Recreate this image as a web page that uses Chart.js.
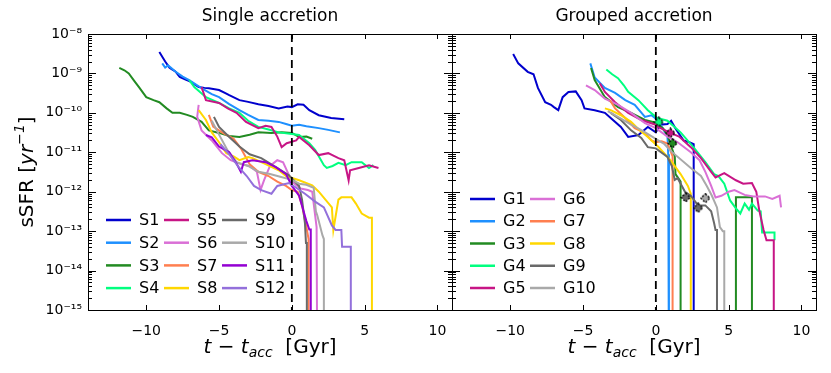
<!DOCTYPE html>
<html>
<head>
<meta charset="utf-8">
<script src="https://cdn.jsdelivr.net/npm/chart.js@4.4.1/dist/chart.umd.min.js"></script>
<style>
  html, body { margin: 0; padding: 0; background: #fff; }
  #wrap { position: relative; width: 831px; height: 373px; overflow: hidden; }
  canvas { position: absolute; top: 0; }
  #left { left: 0; }
  #right { left: 440px; }
</style>
</head>
<body>
<div id="wrap">
  <canvas id="left" width="453" height="373"></canvas>
  <canvas id="right" width="391" height="373"></canvas>
</div>
<script>
// --- data: [t - t_acc (Gyr), sSFR (1/yr)]; 1e-17 = quenched (off the axis)
const s1 = [[-9.1,3.5e-9],[-8.7,2.0e-9],[-8.4,1.4e-9],[-8.2,1.25e-9],[-8.0,1.12e-9],[-7.7,8.1e-10],[-7.3,7.0e-10],[-7.0,6.3e-10],[-6.4,4.5e-10],[-6.0,4.3e-10],[-5.7,4.2e-10],[-5.0,3.8e-10],[-4.6,3.2e-10],[-4.3,2.8e-10],[-3.6,2.1e-10],[-3.0,1.9e-10],[-2.3,1.66e-10],[-1.6,1.5e-10],[-0.9,1.3e-10],[-0.3,1.45e-10],[0.0,1.4e-10],[0.4,1.65e-10],[0.8,1.6e-10],[1.2,1.17e-10],[1.85,8.7e-11],[2.7,7.4e-11],[3.6,6.9e-11]];
const s2 = [[-8.9,1.8e-9],[-8.7,1.4e-9],[-8.5,1.6e-9],[-8.0,1.12e-9],[-7.5,8.3e-10],[-7.05,6.8e-10],[-6.5,5.0e-10],[-6.0,3.8e-10],[-5.5,3.0e-10],[-5.0,2.5e-10],[-4.3,1.66e-10],[-3.6,1.17e-10],[-3.0,8.9e-11],[-2.3,6.6e-11],[-1.6,6.3e-11],[-0.9,5.9e-11],[-0.4,5.2e-11],[0.0,4.7e-11],[0.5,5.0e-11],[1.0,4.6e-11],[1.85,4.1e-11],[2.5,3.7e-11],[3.3,3.2e-11]];
const s3 = [[-11.85,1.38e-9],[-11.5,1.2e-9],[-11.2,1.0e-9],[-10.8,6.3e-10],[-10.5,4.5e-10],[-10.0,2.5e-10],[-9.5,2.1e-10],[-9.1,1.86e-10],[-8.6,1.3e-10],[-8.2,1.0e-10],[-7.7,1.0e-10],[-7.2,8.9e-11],[-6.8,7.9e-11],[-6.2,5.9e-11],[-5.7,3.6e-11],[-5.0,3.1e-11],[-4.3,2.6e-11],[-3.6,2.45e-11],[-2.9,2.8e-11],[-2.3,3.2e-11],[-1.4,3.1e-11],[-0.7,3.2e-11],[0.0,3.1e-11],[0.5,2.45e-11],[1.0,2.5e-11],[1.4,2.2e-11]];
const s4 = [[-7.05,6.8e-10],[-6.7,4.5e-10],[-5.9,2.5e-10],[-5.0,1.78e-10],[-4.3,1.3e-10],[-3.6,1.0e-10],[-3.0,6.3e-11],[-2.3,4.4e-11],[-1.6,3.8e-11],[-0.9,3.2e-11],[0.0,2.9e-11],[0.5,2.75e-11],[1.2,1.7e-11],[1.6,1.15e-11],[2.2,4.7e-12],[2.4,4.0e-12],[2.8,4.5e-12],[3.2,5.4e-12],[3.7,4.7e-12],[4.1,5.6e-12],[4.8,5.6e-12],[5.3,4.0e-12],[5.6,4.7e-12]];
const s5 = [[-6.2,4.5e-10],[-5.9,2.1e-10],[-5.0,1.78e-10],[-4.4,1.3e-10],[-3.8,1.0e-10],[-3.15,5.9e-11],[-2.3,4.1e-11],[-1.8,4.7e-11],[-1.4,4.4e-11],[-1.0,2.5e-11],[-0.7,1.35e-11],[-0.35,1.7e-11],[0.3,2.0e-11],[0.5,2.45e-11],[1.2,1.5e-11],[1.85,8.5e-12],[2.5,9.5e-12],[3.2,7.1e-12],[3.6,6.3e-12],[3.9,1.95e-12],[4.0,3.5e-12],[4.6,4.0e-12],[5.3,4.7e-12],[5.95,4.0e-12]];
const s6 = [[-6.4,1.6e-10],[-6.5,7.9e-11],[-6.2,3.6e-11],[-5.5,2.0e-11],[-4.8,9.5e-12],[-4.2,6.3e-12],[-3.5,5.0e-12],[-2.9,4.5e-12],[-2.4,3.2e-12],[-2.15,1.1e-12],[-1.9,2.0e-12],[-1.5,4.5e-12],[-1.0,6.3e-12],[-0.6,5.6e-12],[-0.3,3.2e-12],[0.0,1.8e-12],[0.6,1.2e-12],[1.1,1.1e-12],[1.4,1.0e-12],[1.7,1.26e-13],[1.75,1e-17]];
const s7 = [[-5.7,8.9e-11],[-5.4,4.5e-11],[-4.8,3.2e-11],[-4.0,2.2e-11],[-3.5,1.26e-11],[-2.9,5.0e-12],[-2.3,3.2e-12],[-1.6,2.5e-12],[-1.0,1.8e-12],[-0.4,1.4e-12],[0.0,1.1e-12],[0.4,1.0e-12],[0.7,4.5e-13],[1.0,1.26e-13],[1.15,6.3e-14],[1.15,1e-17]];
const s8 = [[-6.4,1.17e-10],[-5.9,6.6e-11],[-5.5,3.2e-11],[-5.0,1.8e-11],[-4.5,9.5e-12],[-4.0,7.9e-12],[-3.6,6.3e-12],[-3.0,7.6e-12],[-2.7,7.1e-12],[-1.8,5.0e-12],[-0.9,3.5e-12],[-0.4,2.5e-12],[0.5,1.95e-12],[1.4,1.45e-12],[1.85,1.0e-12],[2.75,4.0e-13],[2.85,1.07e-13],[3.2,6.3e-13],[3.4,7.2e-13],[4.1,7.2e-13],[4.4,5.0e-13],[4.8,2.8e-13],[5.3,2.2e-13],[5.5,2.2e-13],[5.5,1e-17]];
const s9 = [[-5.35,7.9e-11],[-5.0,4.4e-11],[-4.3,2.45e-11],[-3.6,1.4e-11],[-2.9,8.9e-12],[-2.1,7.1e-12],[-1.1,4.2e-12],[-0.2,2.6e-12],[0.5,1.4e-12],[0.7,6.3e-13],[0.9,1.6e-13],[0.97,5.0e-14],[1.03,5.0e-14],[1.03,1e-17]];
const s10 = [[-5.5,6.3e-11],[-5.0,2.8e-11],[-4.4,1.1e-11],[-3.8,5.6e-12],[-3.0,4.5e-12],[-2.3,3.2e-12],[-1.5,2.8e-12],[-0.8,2.4e-12],[0.0,2.0e-12],[0.5,1.6e-12],[1.0,1.5e-12],[1.5,1.26e-12],[1.65,3.2e-13],[1.75,2.5e-13],[2.1,7.9e-14],[2.2,6.3e-14],[2.2,1e-17]];
const s11 = [[-5.9,2.75e-11],[-5.5,2.4e-11],[-5.0,1.4e-11],[-4.3,1.0e-11],[-3.8,5.2e-12],[-3.5,3.2e-12],[-3.3,5.6e-12],[-2.7,6.3e-12],[-1.8,5.6e-12],[-1.1,4.2e-12],[-0.4,2.8e-12],[0.0,1.4e-12],[0.5,7.9e-13],[1.0,1.8e-13],[1.2,1.1e-13],[1.3,1.1e-13],[1.3,1e-17]];
const s12 = [[-4.9,1.6e-11],[-4.3,8.9e-12],[-3.6,4.0e-12],[-3.1,2.5e-12],[-2.6,1.4e-12],[-2.1,1.1e-12],[-1.4,8.9e-13],[-1.0,1.4e-12],[-0.2,1.66e-12],[0.3,1.26e-12],[0.9,8.9e-13],[1.6,5.6e-13],[2.2,4.0e-13],[2.75,1.4e-13],[3.0,1.07e-13],[3.4,1.07e-13],[3.45,4.0e-14],[4.05,4.0e-14],[4.05,1e-17]];

const g1 = [[-9.8,3.1e-9],[-9.45,1.8e-9],[-8.8,1.1e-9],[-8.4,9.5e-10],[-8.1,4.3e-10],[-7.6,1.86e-10],[-7.2,1.6e-10],[-7.0,1.4e-10],[-6.7,1.17e-10],[-6.4,2.5e-10],[-6.0,3.4e-10],[-5.5,3.5e-10],[-5.1,2.1e-10],[-4.9,1.3e-10],[-4.2,1.17e-10],[-3.5,1.0e-10],[-3.1,7.4e-11],[-2.4,4.4e-11],[-1.9,2.45e-11],[-1.2,2.75e-11],[-0.55,4.4e-11],[0.0,3.2e-11],[0.3,5.0e-11],[0.8,5.2e-11],[1.05,6.3e-11],[1.35,4.0e-11],[1.9,2.0e-11],[2.3,1.8e-11],[2.6,1.6e-11],[2.6,1e-17]];
const g2 = [[-4.5,1.8e-9],[-4.2,7.9e-10],[-3.5,4.3e-10],[-2.8,3.2e-10],[-2.1,2.1e-10],[-1.45,1.6e-10],[-0.75,7.9e-11],[-0.3,8.7e-11],[0.0,7.1e-11],[0.4,4.5e-11],[0.8,2.5e-11],[0.85,8.9e-12],[0.9,8.9e-12],[0.9,1e-17]];
const g3 = [[-4.45,1.38e-9],[-4.2,6.8e-10],[-3.5,2.5e-10],[-2.6,1.4e-10],[-1.7,1.0e-10],[-0.75,6.6e-11],[0.0,5.6e-11],[0.5,4.0e-11],[0.8,2.8e-11],[1.0,1.6e-11],[1.3,7.9e-12],[1.35,2.8e-12],[1.7,1.8e-12],[1.7,1e-17],[5.5,1e-17],[5.5,7.2e-13],[6.6,7.2e-13],[6.6,1e-17]];
const g4 = [[-3.4,1.26e-9],[-3.0,9.5e-10],[-2.6,7.6e-10],[-2.2,5.0e-10],[-1.9,3.4e-10],[-1.2,2.1e-10],[-0.55,1.17e-10],[0.1,7.4e-11],[0.8,6.3e-11],[1.7,3.2e-11],[2.65,1.26e-11],[3.4,5.6e-12],[4.0,2.8e-12],[4.3,2.5e-12],[4.7,1.6e-12],[5.1,6.0e-13],[5.5,3.8e-13],[5.8,2.8e-13],[6.1,5.0e-13],[6.4,3.5e-13],[6.6,5.0e-13],[7.0,3.3e-13],[7.2,3.2e-13],[7.3,9.3e-14],[8.15,9.3e-14],[8.15,5.9e-14]];
const g5 = [[-3.85,5.6e-10],[-3.5,3.4e-10],[-2.8,1.86e-10],[-1.9,1.0e-10],[-1.0,6.6e-11],[0.0,5.0e-11],[0.15,4.4e-11],[1.0,3.1e-11],[1.6,2.5e-11],[2.4,1.35e-11],[3.1,7.1e-12],[3.8,3.2e-12],[4.1,2.3e-12],[4.7,2.95e-12],[5.5,1.95e-12],[6.0,1.6e-12],[6.6,1.66e-12],[6.9,1.0e-12],[7.1,3.4e-13],[7.4,1.07e-13],[7.6,5.9e-14],[8.1,5.9e-14],[8.1,1e-17]];
const g6 = [[-4.8,5.0e-10],[-4.2,3.8e-10],[-3.5,2.3e-10],[-2.6,1.6e-10],[-1.7,1.0e-10],[-0.75,5.5e-11],[0.0,4.1e-11],[0.8,2.5e-11],[1.5,1.8e-11],[2.4,1.0e-11],[3.0,6.3e-12],[3.4,3.2e-12],[3.8,1.4e-12],[4.1,7.1e-13],[4.5,7.9e-13],[5.0,1.0e-12],[5.4,1.1e-12],[6.1,8.3e-13],[6.7,7.6e-13],[7.5,7.6e-13],[8.0,6.6e-13],[8.5,7.9e-13],[8.6,4.0e-13]];
const g7 = [[-3.15,2.1e-10],[-2.8,1.3e-10],[-2.1,7.4e-11],[-1.45,4.1e-11],[-0.75,3.1e-11],[-0.3,2.0e-11],[0.0,1.8e-11],[0.4,1.9e-11],[0.8,1.66e-11],[1.0,1.1e-11],[1.15,7.9e-12],[1.15,1e-17]];
const g8 = [[-3.5,1.3e-10],[-3.1,1.17e-10],[-2.4,8.7e-11],[-1.7,5.9e-11],[-1.1,3.6e-11],[-0.55,2.45e-11],[0.15,1.4e-11],[1.0,6.3e-12],[1.7,2.8e-12],[2.2,1.4e-12],[2.4,8.9e-13],[2.4,1e-17]];
const g9 = [[-3.1,1.0e-10],[-2.4,6.6e-11],[-1.7,3.6e-11],[-1.0,2.3e-11],[-0.55,1.35e-11],[0.0,1.26e-11],[0.8,7.6e-12],[1.1,4.5e-12],[1.3,2.0e-12],[1.5,2.2e-12],[2.0,1.0e-12],[2.4,7.9e-13],[2.9,4.5e-13],[3.4,4.5e-13],[3.8,3.2e-13],[4.0,1.6e-13],[4.1,1.07e-13],[4.2,1.07e-13],[4.2,1e-17]];
const g10 = [[-3.3,1.1e-10],[-2.6,7.9e-11],[-1.7,5.0e-11],[-0.9,3.5e-11],[0.0,2.2e-11],[0.6,1.6e-11],[1.0,1.1e-11],[2.4,4.0e-12],[3.1,2.5e-12],[3.5,1.4e-12],[3.85,7.9e-13],[4.2,4.0e-13],[4.4,1.26e-13],[4.6,1.0e-13],[4.7,1.0e-13],[4.7,1e-17]];

// black dashed diamonds on the grouped panel
const groupMarkers = [[0.2,5.9e-11],[1.0,3.1e-11],[1.15,1.7e-11],[2.05,7.2e-13],[2.9,3.9e-13],[3.4,6.9e-13]];
const markerFills = ['#00FF7F','#C71585','#228B22','#696969','#696969','#A9A9A9'];
const accretionLine = [[0, 1e-8], [0, 1e-15]];

const singleLabels = ['S1','S2','S3','S4','S5','S6','S7','S8','S9','S10','S11','S12'];
const groupLabels = ['G1','G2','G3','G4','G5','G6','G7','G8','G9','G10'];
const seriesColors = ['#0000CD','#1E90FF','#228B22','#00FF7F','#C71585','#DA70D6','#FF7F50','#FFD700','#696969','#A9A9A9','#9400D3','#9370DB'];

const xTickValues = [-10, -5, 0, 5, 10];
const xTickLabels = ['\u221210', '\u22125', '0', '5', '10'];
const yTickValues = [1e-15, 1e-14, 1e-13, 1e-12, 1e-11, 1e-10, 1e-9, 1e-8];
const yTickLabels = ['10\u207b\u00b9\u2075', '10\u207b\u00b9\u2074', '10\u207b\u00b9\u00b3', '10\u207b\u00b9\u00b2',
                     '10\u207b\u00b9\u00b9', '10\u207b\u00b9\u2070', '10\u207b\u2079', '10\u207b\u2078'];

const FONT = "'DejaVu Sans', sans-serif";
Chart.defaults.font.family = FONT;
Chart.defaults.color = '#000';

const toPts = arr => arr.map(p => ({ x: p[0], y: p[1] }));

function seriesSets(list, labels) {
  return list.map((d, i) => ({
    label: labels[i],
    data: toPts(d),
    borderColor: seriesColors[i],
    borderWidth: 2,
    pointRadius: 0,
    tension: 0,
    clip: 0,
    order: -i,
    inLegend: true
  }));
}

// dashed diamond icon used as point style
function diamondIcon(fill) {
  const c = document.createElement('canvas');
  c.width = 11; c.height = 11;
  const g = c.getContext('2d');
  g.beginPath();
  g.moveTo(5.5, 1); g.lineTo(10, 5.5); g.lineTo(5.5, 10); g.lineTo(1, 5.5); g.closePath();
  g.fillStyle = fill; g.fill();
  g.setLineDash([2, 1.5]);
  g.strokeStyle = '#000'; g.lineWidth = 1.4; g.stroke();
  return c;
}

// frame + inward ticks (classic matplotlib look)
const frameTicks = {
  id: 'frameTicks',
  afterDatasetsDraw(chart) {
    const { ctx, chartArea: a, scales: { x, y } } = chart;
    ctx.save();
    ctx.strokeStyle = '#000';
    ctx.lineWidth = 1;
    ctx.beginPath();
    xTickValues.forEach(v => {
      const px = Math.round(x.getPixelForValue(v)) + 0.5;
      ctx.moveTo(px, a.bottom); ctx.lineTo(px, a.bottom - 5);
      ctx.moveTo(px, a.top); ctx.lineTo(px, a.top + 5);
    });
    yTickValues.forEach((dec, i) => {
      const mult = i < yTickValues.length - 1 ? [1, 2, 3, 4, 5, 6, 7, 8, 9] : [1];
      mult.forEach(k => {
        const py = Math.round(y.getPixelForValue(k * dec)) + 0.5;
        const len = k === 1 ? 8 : 4;
        ctx.moveTo(a.left, py); ctx.lineTo(a.left + len, py);
        ctx.moveTo(a.right, py); ctx.lineTo(a.right - len, py);
      });
    });
    ctx.stroke();
    ctx.strokeRect(a.left + 0.5, a.top + 0.5, a.right - a.left, a.bottom - a.top);
    ctx.restore();
  }
};

// column-major legend without frame
const gridLegend = {
  id: 'gridLegend',
  afterDraw(chart, args, o) {
    const { ctx, chartArea: a } = chart;
    const items = chart.data.datasets.filter(d => d.inLegend);
    ctx.save();
    ctx.font = '16px ' + FONT;
    ctx.textBaseline = 'middle';
    items.forEach((d, i) => {
      const col = Math.floor(i / o.rows), row = i % o.rows;
      const x0 = a.left + o.left + col * o.colGap;
      const yy = a.bottom - o.bottom + row * o.rowGap;
      ctx.strokeStyle = d.borderColor;
      ctx.lineWidth = 2.5;
      ctx.beginPath(); ctx.moveTo(x0, yy); ctx.lineTo(x0 + 25, yy); ctx.stroke();
      ctx.fillStyle = '#000';
      ctx.fillText(d.label, x0 + 33, yy + 1);
    });
    ctx.restore();
  }
};

// axis titles with italic / sub / superscript pieces
function drawPieces(ctx, pieces) {
  let w = 0;
  pieces.forEach(p => { ctx.font = p.f; p.w = ctx.measureText(p.t).width; w += p.w; });
  return w;
}
const mathTitles = {
  id: 'mathTitles',
  afterDraw(chart, args, o) {
    const { ctx, chartArea: a } = chart;
    ctx.save();
    ctx.fillStyle = '#000';
    ctx.textBaseline = 'alphabetic';
    const xp = [
      { t: 't', f: 'italic 20px ' + FONT, dy: 0 },
      { t: ' \u2212 ', f: '20px ' + FONT, dy: 0 },
      { t: 't', f: 'italic 20px ' + FONT, dy: 0 },
      { t: 'acc', f: 'italic 14px ' + FONT, dy: 4 },
      { t: '  [Gyr]', f: '20px ' + FONT, dy: 0 }
    ];
    let w = drawPieces(ctx, xp);
    let cx = (a.left + a.right) / 2 - w / 2;
    xp.forEach(p => { ctx.font = p.f; ctx.fillText(p.t, cx, 353 + p.dy); cx += p.w; });

    if (o.yTitle) {
      const yp = [
        { t: 'sSFR [', f: '20px ' + FONT, dy: 0 },
        { t: 'yr', f: 'italic 20px ' + FONT, dy: 0 },
        { t: '\u22121', f: 'italic 14px ' + FONT, dy: -9 },
        { t: ']', f: '20px ' + FONT, dy: 0 }
      ];
      w = drawPieces(ctx, yp);
      ctx.translate(33, (a.top + a.bottom) / 2);
      ctx.rotate(-Math.PI / 2);
      cx = -w / 2;
      yp.forEach(p => { ctx.font = p.f; ctx.fillText(p.t, cx, p.dy); cx += p.w; });
    }
    ctx.restore();
  }
};

function makeChart(id, datasets, title, cfg) {
  return new Chart(document.getElementById(id), {
    type: 'line',
    data: { datasets },
    options: {
      responsive: false,
      animation: false,
      layout: { padding: { left: cfg.padLeft, right: cfg.padRight, top: 0, bottom: 0 } },
      plugins: {
        legend: { display: false },
        tooltip: { enabled: false },
        title: {
          display: true, text: title, fullSize: false,
          font: { size: 17, weight: 'normal', lineHeight: 20 / 17 },
          padding: { top: 7, bottom: 7 }
        },
        gridLegend: cfg.legend,
        mathTitles: { yTitle: cfg.yTitle }
      },
      scales: {
        x: {
          type: 'linear', min: -14, max: 11,
          grid: { display: false }, border: { display: false },
          afterBuildTicks: s => { s.ticks = xTickValues.map(v => ({ value: v })); },
          afterFit: s => { s.height = 63; },
          ticks: { autoSkip: false, maxRotation: 0, padding: 5, font: { size: 14 },
                   callback: (v, i) => xTickLabels[i] }
        },
        y: {
          type: 'logarithmic', min: 1e-15, max: 1e-8,
          display: cfg.yTicks,
          grid: { display: false, drawTicks: false }, border: { display: false },
          afterBuildTicks: s => { s.ticks = yTickValues.map(v => ({ value: v })); },
          afterFit: s => { s.width = cfg.padLeft ? 0 : 88; },
          ticks: { autoSkip: false, padding: 6, font: { size: 14 },
                   callback: (v, i) => yTickLabels[i] }
        }
      }
    },
    plugins: [frameTicks, gridLegend, mathTitles]
  });
}

const dashedSet = {
  data: toPts(accretionLine), borderColor: '#000', borderWidth: 1.8,
  borderDash: [8, 5], pointRadius: 0, clip: 0, order: -100
};

makeChart('left',
  seriesSets([s1, s2, s3, s4, s5, s6, s7, s8, s9, s10, s11, s12], singleLabels).concat([dashedSet]),
  'Single accretion',
  { padLeft: 0, padRight: 1, yTicks: true, yTitle: true,
    legend: { rows: 4, left: 18, colGap: 58, bottom: 90, rowGap: 22.7 } });

makeChart('right',
  seriesSets([g1, g2, g3, g4, g5, g6, g7, g8, g9, g10], groupLabels).concat([
    Object.assign({}, dashedSet, { data: toPts(accretionLine) }),
    {
      data: toPts(groupMarkers), showLine: false, clip: 0, order: -200,
      pointStyle: markerFills.map(diamondIcon), pointRadius: 5
    }
  ]),
  'Grouped accretion',
  { padLeft: 12, padRight: 15, yTicks: false, yTitle: false,
    legend: { rows: 5, left: 18, colGap: 60, bottom: 111, rowGap: 22.25 } });
</script>
</body>
</html>
